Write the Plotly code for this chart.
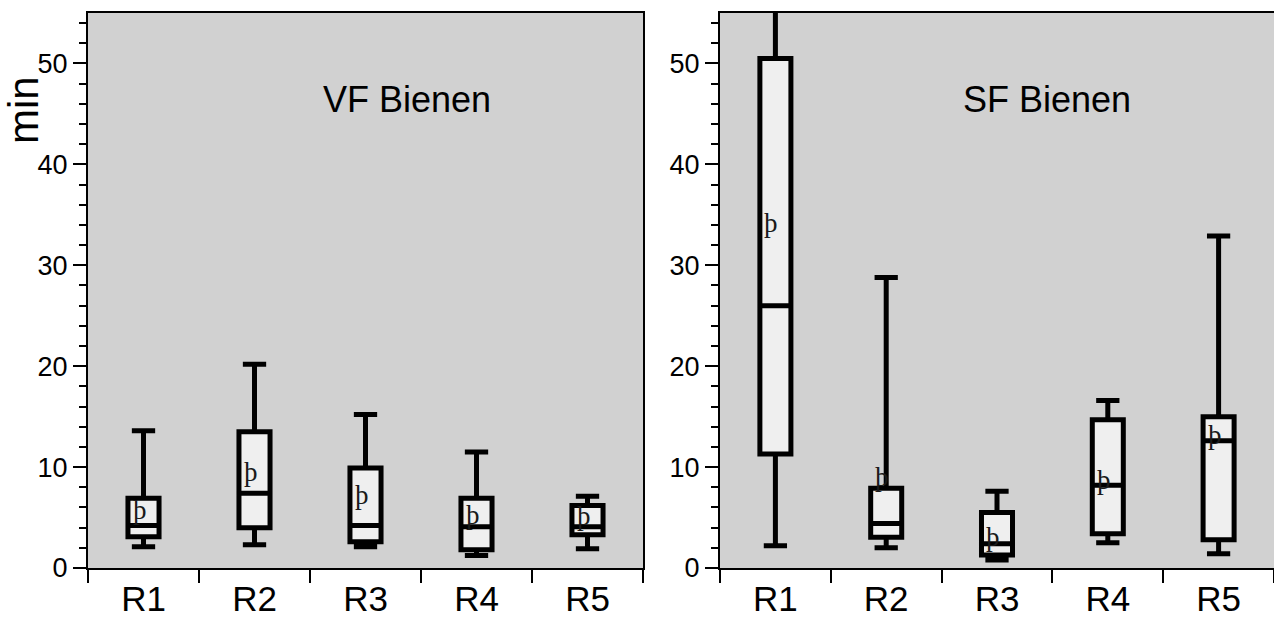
import plotly.graph_objects as go

# ---- data ----
categories = ["R1", "R2", "R3", "R4", "R5"]

vf_low = [2.1, 2.3, 2.1, 1.25, 1.9]
vf_q1 = [3.1, 4.0, 2.6, 1.8, 3.3]
vf_median = [4.2, 7.4, 4.2, 4.1, 4.1]
vf_q3 = [6.9, 13.5, 9.9, 6.9, 6.2]
vf_high = [13.6, 20.2, 15.2, 11.5, 7.1]
vf_mean = [5.7, 9.5, 7.2, 5.3, 5.2]

sf_low = [2.2, 2.0, 0.8, 2.5, 1.4]
sf_q1 = [11.3, 3.05, 1.3, 3.4, 2.8]
sf_median = [26.0, 4.4, 2.4, 8.2, 12.6]
sf_q3 = [50.5, 7.9, 5.5, 14.7, 15.0]
sf_high = [58.0, 28.8, 7.6, 16.6, 32.9]
sf_mean = [34.2, 9.0, 3.1, 8.7, 13.2]

y_ticks = [0, 10, 20, 30, 40, 50]
panel_titles = ["VF Bienen", "SF Bienen"]
y_title = "min"
mean_symbol = "þ"

# ---- figure ----
W, H = 1274, 622
ML, MR, MT, MB = 0, 0, 13, 54
PH = H - MT - MB

SANS = "Liberation Sans, Arial, sans-serif"
SERIF = "Liberation Serif, DejaVu Serif, serif"
BOX_FILL = "#efefef"
BG = "#d1d1d1"

fig = go.Figure()

def add_panel(xa, ya, low, q1, med, q3, high, mean):
    fig.add_trace(go.Box(
        x=categories, q1=q1, median=med, q3=q3,
        lowerfence=low, upperfence=high,
        xaxis=xa, yaxis=ya,
        fillcolor=BOX_FILL,
        line=dict(color="black", width=5),
        whiskerwidth=0.75,
        boxpoints=False,
        hoverinfo="skip",
        showlegend=False,
    ))
    for c, m in zip(categories, mean):
        fig.add_annotation(
            x=c, y=m, xref=xa, yref=ya, text=mean_symbol,
            showarrow=False, xshift=-4, xanchor="center", yanchor="middle",
            font=dict(family=SERIF, size=27, color="#1a1a1a"),
        )

add_panel("x", "y", vf_low, vf_q1, vf_median, vf_q3, vf_high, vf_mean)
add_panel("x2", "y2", sf_low, sf_q1, sf_median, sf_q3, sf_high, sf_mean)

def xaxis_cfg(domain):
    return dict(
        domain=domain, type="category", range=[-0.5, 4.5],
        showline=True, linecolor="black", linewidth=2, mirror=True,
        ticks="outside", tickson="boundaries", ticklen=13, tickwidth=2,
        tickcolor="black", showgrid=False, zeroline=False,
        tickfont=dict(family=SANS, size=35, color="black"),
        ticklabelstandoff=-1,
        automargin=False, fixedrange=True,
    )

def yaxis_cfg(anchor, mirror):
    return dict(
        domain=[0, 1], range=[0, 55], anchor=anchor,
        tickmode="array", tickvals=y_ticks,
        ticks="outside", ticklen=13, tickwidth=2, tickcolor="black",
        minor=dict(dtick=2, tick0=0, ticks="outside", ticklen=7,
                   tickwidth=2, tickcolor="black", showgrid=False),
        showline=True, linecolor="black", linewidth=2, mirror=mirror,
        showgrid=False, zeroline=False,
        tickfont=dict(family=SANS, size=27, color="black"),
        automargin=False, fixedrange=True,
    )

xd1 = [88 / W, 643 / W]
xd2 = [720 / W, 1.0]

fig.update_layout(
    width=W, height=H,
    margin=dict(l=ML, r=MR, t=MT, b=MB, autoexpand=False),
    paper_bgcolor="white", plot_bgcolor=BG,
    boxgap=0.6,
    xaxis=xaxis_cfg(xd1),
    yaxis=yaxis_cfg("x", True),
    xaxis2=dict(xaxis_cfg(xd2), anchor="y2"),
    yaxis2=yaxis_cfg("x2", False),
    showlegend=False,
)

def px_x(px):
    return px / W

def px_y(py):
    return (H - MB - py) / PH

fig.add_annotation(x=px_x(407), y=px_y(100), xref="paper", yref="paper",
                   text=panel_titles[0], showarrow=False,
                   xanchor="center", yanchor="middle",
                   font=dict(family=SANS, size=36, color="black"))
fig.add_annotation(x=px_x(1047), y=px_y(100), xref="paper", yref="paper",
                   text=panel_titles[1], showarrow=False,
                   xanchor="center", yanchor="middle",
                   font=dict(family=SANS, size=36, color="black"))
fig.add_annotation(x=px_x(23), y=px_y(110), xref="paper", yref="paper",
                   text=y_title, showarrow=False, textangle=-90,
                   xanchor="center", yanchor="middle",
                   font=dict(family=SANS, size=42, color="black"))

fig.write_html(
    "out.html",
    config={"displayModeBar": False},
    post_script="document.body.style.margin='0';document.body.style.overflow='hidden';",
)
